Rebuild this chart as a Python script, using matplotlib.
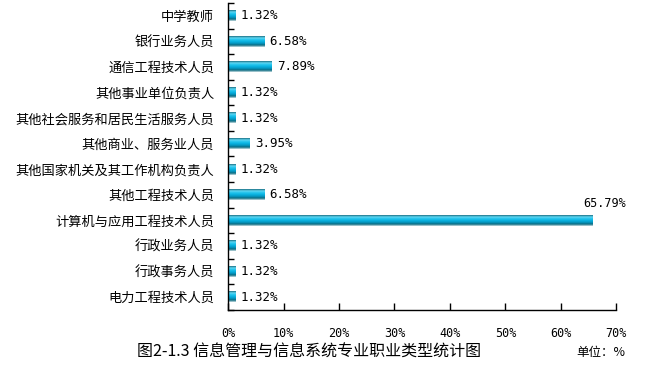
import matplotlib.pyplot as plt
from matplotlib.colors import LinearSegmentedColormap
import numpy as np

plt.rcParams['font.family'] = ['Noto Sans CJK SC', 'DejaVu Sans']

# categories top to bottom
categories = ['中学教师', '银行业务人员', '通信工程技术人员', '其他事业单位负责人',
              '其他社会服务和居民生活服务人员', '其他商业、服务业人员',
              '其他国家机关及其工作机构负责人', '其他工程技术人员',
              '计算机与应用工程技术人员', '行政业务人员', '行政事务人员', '电力工程技术人员']
values = [1.32, 6.58, 7.89, 1.32, 1.32, 3.95, 1.32, 6.58, 65.79, 1.32, 1.32, 1.32]
xticks = [0, 10, 20, 30, 40, 50, 60, 70]

fig = plt.figure(figsize=(6.48, 3.77), dpi=100)
ax = fig.add_axes([0.352, 0.178, 0.599, 0.814])

# cylinder-like shading, top row -> bottom row
cmap = LinearSegmentedColormap.from_list('cyl', ['#1b6f82', '#5fd6f2', '#22c4ee', '#08b2e0',
                                                  '#0596c0', '#0a6a80', '#c8dde2'])
grad = np.linspace(0, 1, 64).reshape(-1, 1)
mono = ['DejaVu Sans Mono']

h = 0.42
for i, v in enumerate(values):
    ax.imshow(grad, extent=(0, v, i + h / 2, i - h / 2), aspect='auto', cmap=cmap,
              interpolation='bilinear', zorder=2)
    if v > 50:
        ax.text(v + 5.9, i - 0.42, f'{v:.2f}%', ha='right', va='bottom', fontsize=8.5,
                family=mono)
    else:
        ax.text(v + 0.9, i, f'{v:.2f}%', ha='left', va='center', fontsize=9, family=mono)

n = len(categories)
ax.set_xlim(0, 70)
ax.set_ylim(n - 0.5, -0.5)

ax.set_yticks(range(n))
ax.set_yticklabels(categories, fontsize=9.5)
ax.tick_params(axis='y', which='major', length=0, pad=10)
ax.set_yticks(np.arange(-0.5, n, 1), minor=True)
ax.tick_params(axis='y', which='minor', direction='in', length=4, width=1)

ax.set_xticks(xticks)
ax.set_xticklabels([f'{t}%' for t in xticks], fontsize=8.5, family=mono)
ax.tick_params(axis='x', direction='in', length=5, width=1, pad=12)

for s in ['top', 'right']:
    ax.spines[s].set_visible(False)
for s in ['left', 'bottom']:
    ax.spines[s].set_color('black')
    ax.spines[s].set_linewidth(1)

fig.text(0.211, 0.066, '图2-1.3 信息管理与信息系统专业职业类型统计图', fontsize=11.5, va='center')
fig.text(0.89, 0.066, '单位：%', fontsize=9, va='center')

fig.savefig('out.png', dpi=100)
